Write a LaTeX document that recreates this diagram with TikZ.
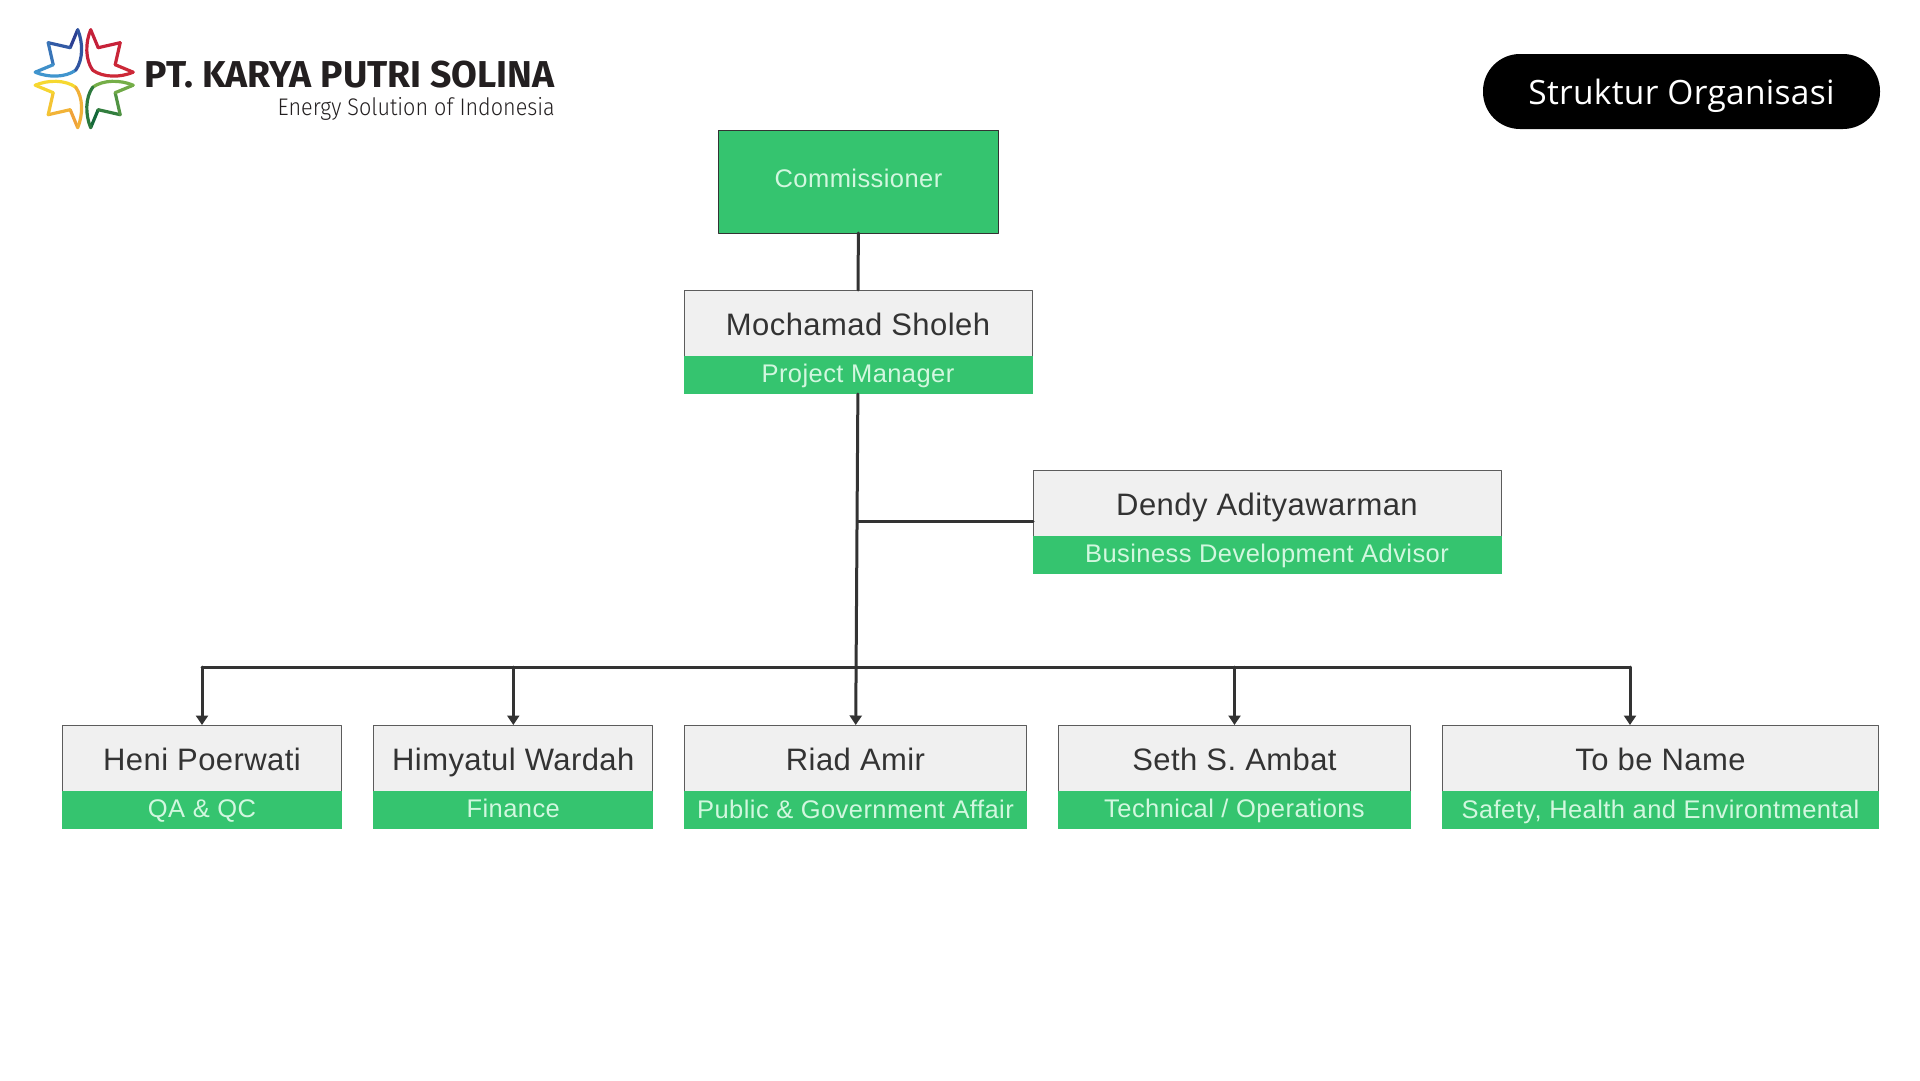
\documentclass[tikz,border=0pt]{standalone}
\usepackage{fontspec}
\usetikzlibrary{arrows.meta,positioning}
\newfontfamily\namefont[LetterSpace=1.4]{Liberation Sans}
\newfontfamily\rolefont[LetterSpace=1.7]{Liberation Sans}
\newfontfamily\pillfont[LetterSpace=0.85]{Open Sans}
\newfontfamily\logofont{Fira Sans}
\newfontfamily\logotagfont[FakeStretch=0.9]{Fira Sans Light}

\definecolor{boxgreen}{HTML}{35C46F}
\definecolor{boxgray}{HTML}{F0F0F0}
\definecolor{rolegreen}{HTML}{D2F7DF}
\definecolor{inkgray}{HTML}{333333}
\definecolor{logoink}{HTML}{231F20}
\definecolor{petalblueA}{HTML}{2C3F92}
\definecolor{petalblueB}{HTML}{45ABDD}
\definecolor{petalredA}{HTML}{C4203A}
\definecolor{petalredB}{HTML}{CF2A36}
\definecolor{petalyelA}{HTML}{F0A23A}
\definecolor{petalyelB}{HTML}{F8E62E}
\definecolor{petalgrnA}{HTML}{14683A}
\definecolor{petalgrnB}{HTML}{8DBF4B}

\begin{document}
\begin{tikzpicture}[x=1pt, y=-1pt, line cap=round, line join=round]
  \useasboundingbox (0,0) rectangle (1920,1080);
  \tikzset{
    namebox/.style={draw=inkgray!80, line width=0.8pt, fill=boxgray, text=inkgray, inner sep=0pt, outer sep=0pt,
      minimum height=66pt, text height=29pt, text depth=5pt, font=\namefont\fontsize{31}{36}\selectfont},
    rolebox/.style={fill=boxgreen, text=rolegreen, inner sep=0pt, outer sep=0pt,
      minimum height=38pt, text height=17pt, text depth=3pt, font=\rolefont\fontsize{25.5}{30}\selectfont},
    topbox/.style={draw=black!80, line width=0.8pt, fill=boxgreen, text=rolegreen, inner sep=0pt, outer sep=0pt,
      minimum width=280pt, minimum height=103pt, text height=18pt, text depth=7pt, font=\rolefont\fontsize{25.5}{30}\selectfont},
    pillbox/.style={fill=black, text=white, rounded corners=37pt, inner sep=0pt, outer sep=0pt,
      minimum width=397pt, minimum height=75pt, text height=31pt, text depth=5pt, font=\pillfont\fontsize{33.5}{40}\selectfont},
    link/.style={draw=inkgray, line width=3pt},
    arrowlink/.style={link, -{Triangle[length=9.5pt,width=12pt]}},
    petalline/.style={line width=3.2pt}
  }

  % --- logo petals
  \foreach \sx/\sy/\ca/\cb in {1/1/petalblueA/petalblueB, -1/1/petalredA/petalredB,
                               1/-1/petalyelA/petalyelB, -1/-1/petalgrnA/petalgrnB} {
    \begin{scope}[shift={(84.2,78.7)}, xscale=\sx, yscale=\sy]
      \draw[petalline, \ca!100!\cb] (-6.5,-49) -- (-14,-31);
      \draw[petalline, \ca!75!\cb] (-14,-31) -- (-36,-36);
      \draw[petalline, \ca!50!\cb] (-36,-36) -- (-31,-14);
      \draw[petalline, \ca!25!\cb] (-31,-14) -- (-49,-6.5);
      \draw[petalline, \ca!20!\cb] (-49,-6.5) .. controls (-36,-1) and (-19,-1) .. (-8.5,-8.5);
      \draw[petalline, \ca!80!\cb] (-8.5,-8.5) .. controls (-1,-19) and (-1,-36) .. (-6.5,-49);
    \end{scope}
  }

  % --- logo text + title
  \node[anchor=base east, inner sep=0pt, text=logoink, font=\logofont\bfseries\fontsize{37.4}{42}\selectfont]
    (logoname) at (555,87) {PT. KARYA PUTRI SOLINA};
  \node[anchor=base east, inner sep=0pt, text=logoink, font=\logotagfont\fontsize{24}{28}\selectfont]
    (logotag) at (555,115) {Energy Solution of Indonesia};
  \node[pillbox] (title) at (1681.5,91.5) {Struktur Organisasi};

  % --- top of the chart
  \node[topbox] (commissioner) at (858.5,181.5) {Commissioner};

  \node[namebox, minimum width=348pt] (sholeh) at (858,323) {Mochamad Sholeh};
  \node[rolebox, minimum width=349pt, below=0pt of sholeh] (sholehrole) {Project Manager};

  \node[namebox, minimum width=468pt] (dendy) at (1267,503) {Dendy Adityawarman};
  \node[rolebox, minimum width=469pt, below=0pt of dendy] (dendyrole) {Business Development Advisor};

  % --- bottom row
  \node[namebox, minimum width=279pt] (heni) at (202,758) {Heni Poerwati};
  \node[rolebox, minimum width=280pt, below=0pt of heni] (henirole) {QA \& QC};

  \node[namebox, minimum width=279pt] (himyatul) at (513.3,758) {Himyatul Wardah};
  \node[rolebox, minimum width=280pt, below=0pt of himyatul] (himyatulrole) {Finance};

  \node[namebox, minimum width=342pt] (riad) at (855.5,758) {Riad Amir};
  \node[rolebox, minimum width=343pt, text height=19pt, below=0pt of riad] (riadrole) {Public \& Government Affair};

  \node[namebox, minimum width=352pt] (seth) at (1234.5,758) {Seth S. Ambat};
  \node[rolebox, minimum width=353pt, below=0pt of seth] (sethrole) {Technical / Operations};

  \node[namebox, minimum width=436pt] (tobe) at (1660.5,758) {To be Name};
  \node[rolebox, minimum width=437pt, text height=19pt, below=0pt of tobe] (toberole) {Safety, Health and Environtmental};

  % --- connectors
  \coordinate (advisorjoin) at (857.7,521);
  \coordinate (busleft) at (202,667);
  \coordinate (busright) at (1630,667);

  \draw[link] (commissioner) -- (sholeh);
  \draw[arrowlink] (sholehrole) -- (riad);
  \draw[link] (advisorjoin) -- (dendy.west |- advisorjoin);
  \draw[link] (busleft) -- (busright);

  \draw[arrowlink] (busleft) -- (heni);
  \draw[arrowlink] (himyatul |- busleft) -- (himyatul);
  \draw[arrowlink] (seth |- busleft) -- (seth);
  \draw[arrowlink] (busright) -- (tobe.north -| busright);
\end{tikzpicture}
\end{document}
